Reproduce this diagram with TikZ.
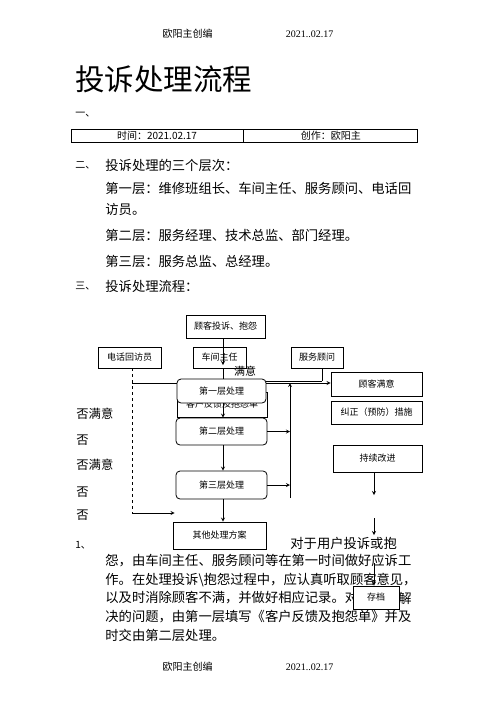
\documentclass[tikz,border=0pt]{standalone}
\usepackage{fontspec}
\setmainfont{Liberation Serif}
\newfontfamily\cjk{Noto Sans CJK SC}
\usetikzlibrary{positioning, arrows}
\tikzset{>=stealth,
every node/.style={inner sep=0pt},
box/.style={draw, line width=0.8pt, fill=white, minimum height=21pt, font=\cjk\fontsize{9}{9}\selectfont},
lvbox/.style={box, rounded corners=4pt},
cell/.style={draw, line width=0.8pt, minimum height=13pt, font=\cjk\fontsize{10}{10}\selectfont},
txt/.style={anchor=west, font=\cjk\fontsize{13.3}{13.3}\selectfont},
numtxt/.style={anchor=west, font=\cjk\fontsize{10}{10}\selectfont},
side/.style={anchor=west, font=\cjk\fontsize{12.3}{12.3}\selectfont},
}

\begin{document}
\begin{tikzpicture}[x=1pt, y=-1pt, line width=0.8pt]
    \useasboundingbox (0,0) rectangle (496,702);
    % header and title
    \node[font=\cjk\fontsize{10}{10}\selectfont] (hd_name) at (187.5,34) {欧阳主创编};
    \node[font=\fontsize{10}{10}\selectfont] (hd_date) at (309.5,34) {2021..02.17};
    \node[anchor=west, font=\cjk\fontsize{29.5}{29.5}\selectfont] (title) at (75,79) {投诉处理流程};
    \node[numtxt] (n_1) at (75,115) {一、};
    \node[cell, minimum width=172pt] (time) at (157,135.5) {时间：2021.02.17};
    \node[cell, minimum width=174pt, right=0pt of time] (author) {创作：欧阳主};
    % levels
    \node[numtxt] (n_2) at (75,165) {二、};
    \node[txt] (levels) at (105,165) {投诉处理的三个层次：};
    \node[txt] (lv_a) at (105,188) {第一层：维修班组长、车间主任、服务顾问、电话回};
    \node[txt] (lv_b) at (105,209) {访员。};
    \node[txt] (lv_c) at (105,235) {第二层：服务经理、技术总监、部门经理。};
    \node[txt] (lv_d) at (105,261) {第三层：服务总监、总经理。};
    \node[numtxt] (n_3) at (75,286) {三、};
    \node[txt] (flow) at (105,286) {投诉处理流程：};
    % flow chart
    \coordinate (spine) at (223,0);
    \node[box, minimum width=79pt, minimum height=23pt] (comp) at (225.5,326.5) {顾客投诉、抱怨};
    \node[box, minimum width=63pt] (phone) at (129.5,357.5) {电话回访员};
    \node[box, minimum width=53pt] (shop) at (219.5,357.5) {车间主任};
    \node[box, minimum width=52pt] (advisor) at (317,357.5) {服务顾问};
    \node[box, minimum width=90pt, minimum height=25pt] (form) at (222,404.5) {\raisebox{-4.5pt}{客户反馈及抱怨单}};
    \node[lvbox, minimum width=89pt, minimum height=24pt] (lv1) at (221.5,391) {第一层处理};
    \node[lvbox, minimum width=91pt, minimum height=27pt] (lv2) at (221.5,431.5) {第二层处理};
    \node[lvbox, minimum width=91pt, minimum height=28pt] (lv3) at (221.5,485) {第三层处理};
    \node[box, minimum width=93pt, minimum height=27pt] (other) at (219.5,535.5) {其他处理方案};
    \node[box, minimum width=91pt, minimum height=24pt] (satisf) at (376.5,384) {顾客满意};
    \node[box, minimum width=91pt, minimum height=23pt] (fix) at (376.5,412.5) {纠正（预防）措施};
    \node[box, minimum width=89pt, minimum height=27pt] (improve) at (377.5,458.5) {持续改进};
    \node[font=\cjk\fontsize{11}{11}\selectfont] (ok) at (245,371) {满意};
    \node[side] (no_1) at (76,414) {否满意};
    \node[side] (no_2) at (76,440) {否};
    \node[side] (no_3) at (76,465) {否满意};
    \node[side] (no_4) at (76,492) {否};
    \node[side] (no_5) at (76,515) {否};
    \coordinate (shop_tip) at (223,365);
    \coordinate (link) at (132,383);
    \coordinate (dash) at (132,513);
    \coordinate (hub) at (290,383);
    \coordinate (bus_end) at (290,498);
    \coordinate (adv_tap) at (322,381);
    \coordinate (s_1) at (374,495);
    \coordinate (s_2) at (374,518);
    \coordinate (s_3) at (374,535);
    \coordinate (s_4) at (374,563);
    \draw[->] (comp.south -| spine) -- (shop_tip);
    \draw (shop.south -| spine) -- (lv1.north -| spine);
    \draw[->] (lv1.south -| spine) -- (lv2.north -| spine);
    \draw[->] (lv2.south -| spine) -- (lv3.north -| spine);
    \draw[->] (lv3.south -| spine) -- (other.north -| spine);
    \draw (link) -- (link -| lv1.west);
    \draw[dashed] (phone.south -| dash) -- (dash);
    \draw[->] (dash) -- ([xshift=2pt]dash -| other.west);
    \draw[->] (lv1.east |- hub) -- (hub -| satisf.west);
    \draw (lv1.east |- adv_tap) -- (adv_tap);
    \draw (advisor.south -| adv_tap) -- (adv_tap);
    \draw[->] (bus_end) -- (hub);
    \draw[->] (lv2.east) -- (lv2.east -| hub);
    \draw[->] (lv3.east) -- (lv3.east -| hub);
    \draw[->] (improve.south -| s_1) -- (s_1);
    \draw[->] (s_2) -- (s_3);
    % body text
    \node[numtxt] (n_4) at (75,545) {1、};
    \node[txt] (p_1) at (290,543) {对于用户投诉或抱};
    \node[txt] (p_2) at (105,561) {怨，由车间主任、服务顾问等在第一时间做好应诉工};
    \node[txt] (p_3) at (105,580) {作。在处理投诉\textbackslash 抱怨过程中，应认真听取顾客意见，};
    \node[txt] (p_4) at (105,598) {以及时消除顾客不满，并做好相应记录。对};
    \node[txt] (p_4b) at (398,598) {解};
    \node[txt] (p_5) at (105,617) {决的问题，由第一层填写《客户反馈及抱怨单》并及};
    \node[txt] (p_6) at (105,635) {时交由第二层处理。};
    \node[box, minimum width=46pt, minimum height=23pt] (archive) at (376,597.5) {存档};
    \draw[->] (s_4) -- (s_4 |- archive.north);
    % footer
    \node[font=\cjk\fontsize{10}{10}\selectfont] (ft_name) at (187.5,667) {欧阳主创编};
    \node[font=\fontsize{10}{10}\selectfont] (ft_date) at (309.5,667) {2021..02.17};
\end{tikzpicture}
\end{document}
